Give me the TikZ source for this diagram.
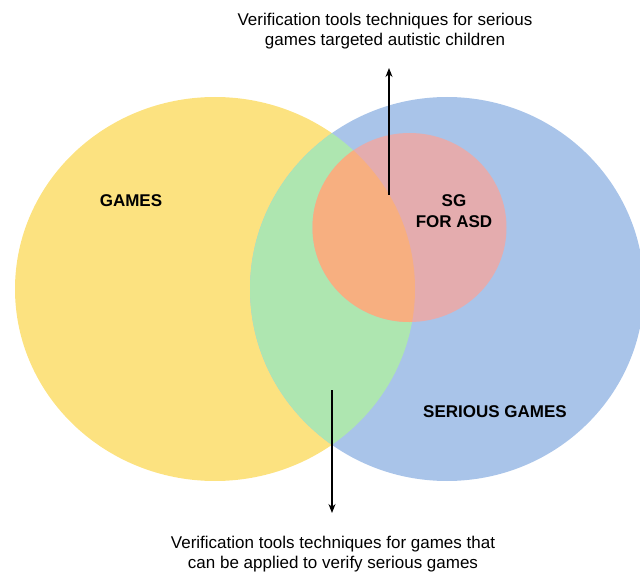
\documentclass[tikz,border=0pt]{standalone}
\usepackage{fontspec}
\setmainfont{Liberation Sans}
\usetikzlibrary{arrows.meta}
\definecolor{gyellow}{RGB}{252,226,128}
\definecolor{gblue}{RGB}{169,196,233}
\definecolor{ggreen}{RGB}{174,230,176}
\definecolor{gpink}{RGB}{228,172,174}
\definecolor{gorange}{RGB}{247,175,128}
\tikzset{
  setlabel/.style={font=\fontsize{17}{21}\selectfont\bfseries, align=center, inner sep=0pt},
  note/.style={font=\fontsize{17}{20.5}\selectfont, align=center, inner sep=0pt},
  pointer/.style={line width=1.1pt, -{Stealth[length=9pt,width=7pt]}},
  gamesset/.style={x radius=200pt, y radius=192pt},
  seriousset/.style={x radius=197pt, y radius=192pt},
  asdset/.style={x radius=97pt, y radius=94.5pt}
}
\begin{document}
\begin{tikzpicture}[x=1pt,y=-1pt]
\useasboundingbox (0,0) rectangle (640,572);
\begin{scope}
  \clip (0,0) rectangle (640,572);
  % the two main sets
  \fill[gyellow] (215,289) ellipse [gamesset];
  \fill[gblue] (447,289) ellipse [seriousset];
  % overlap of games and serious games
  \begin{scope}
    \clip (215,289) ellipse [gamesset];
    \fill[ggreen] (447,289) ellipse [seriousset];
  \end{scope}
  % serious games for ASD
  \fill[gpink] (409.5,227.5) ellipse [asdset];
  \begin{scope}
    \clip (215,289) ellipse [gamesset];
    \fill[gorange] (409.5,227.5) ellipse [asdset];
  \end{scope}
\end{scope}

\node[setlabel] (games) at (131,201) {GAMES};
\node[setlabel] (sgasd) at (454,211.5) {SG\\FOR ASD};
\node[setlabel] (serious) at (495,412) {SERIOUS GAMES};

\node[note] (topnote) at (385,31) {Verification tools techniques for serious\\games targeted autistic children};
\node[note] (botnote) at (333,554) {Verification tools techniques for games that\\can be applied to verify serious games};

\coordinate (asdpt) at (389,195);
\coordinate (asdtip) at (389,68);
\coordinate (greenpt) at (332,390);
\coordinate (greentip) at (332,513);
\draw[pointer] (asdpt) -- (asdtip);
\draw[pointer] (greenpt) -- (greentip);
\end{tikzpicture}
\end{document}
